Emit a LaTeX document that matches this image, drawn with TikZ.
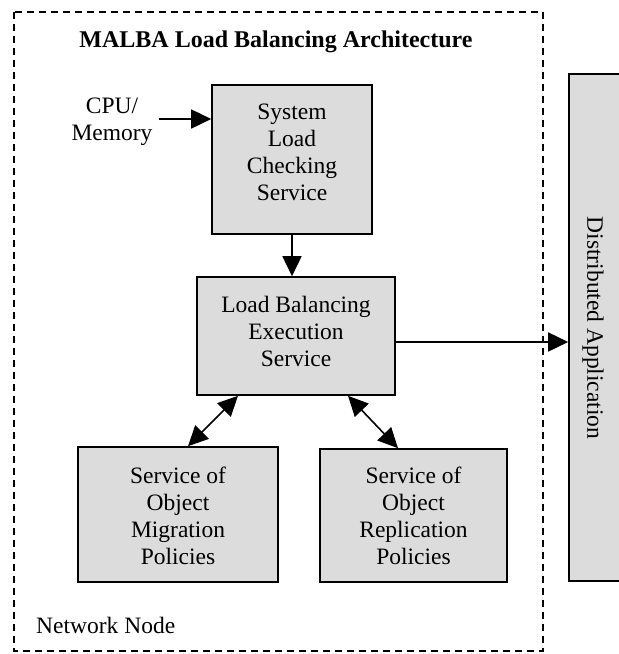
\documentclass[tikz,border=0pt]{standalone}
\usepackage{fontspec}
\setmainfont{Liberation Serif}
\usetikzlibrary{arrows.meta}
\definecolor{boxgray}{RGB}{220,220,220}
\tikzset{
  txt/.style={font=\fontsize{23.5}{27}\selectfont, align=center, inner sep=0pt},
  svcbox/.style={draw=black, line width=1.6pt, fill=boxgray, inner sep=0pt},
  arr/.style={line width=1.6pt, -{Triangle[length=20pt,width=19pt]}},
  dblarr/.style={line width=1.6pt, {Triangle[length=20pt,width=19pt]}-{Triangle[length=20pt,width=19pt]}},
  nodeframe/.style={draw=black, line width=1.4pt, dash pattern=on 7pt off 5pt}
}
\begin{document}
\begin{tikzpicture}[x=1pt,y=-1pt]
  \useasboundingbox (0,0) rectangle (619,654);
  \clip (0,0) rectangle (619,654);

  % network node frame and its labels
  \draw[nodeframe] (14,12) rectangle (543,651);
  \node[txt, font=\fontsize{24}{27}\selectfont\bfseries] (title) at (276,42) {MALBA Load Balancing Architecture};
  \node[txt, anchor=west] (netnode) at (36,625) {Network Node};

  % input
  \node[txt] (cpu) at (112,122) {CPU/\\Memory};
  \coordinate (cpuout) at (159,119);

  % services
  \node[svcbox, minimum width=160pt, minimum height=149pt] (slc) at (292,159.5) {};
  \node[txt] (slctxt) at (292,152.5) {System\\Load\\Checking\\Service};

  \node[svcbox, minimum width=198pt, minimum height=118pt] (lbe) at (296,336) {};
  \node[txt] (lbetxt) at (296,331.5) {Load Balancing\\Execution\\Service};

  \node[svcbox, minimum width=200pt, minimum height=135pt] (mig) at (178,514.5) {};
  \node[txt] (migtxt) at (178,516) {Service of\\Object\\Migration\\Policies};

  \node[svcbox, minimum width=187pt, minimum height=133pt] (rep) at (413.5,515.5) {};
  \node[txt] (reptxt) at (413.5,516) {Service of\\Object\\Replication\\Policies};

  % application outside the network node
  \node[svcbox, minimum width=71pt, minimum height=507pt] (dapp) at (604.5,327.5) {};
  \node[txt, rotate=-90] (dapptxt) at (593,328) {Distributed Application};

  % connectors
  \draw[arr] (cpuout) -- (slc.west |- cpuout);
  \draw[arr] (slc.south) -- (slc.south |- lbe.north);
  \draw[arr] (lbe.east |- 0,342) -- (dapp.west |- 0,342);
  \draw[dblarr] (238,0 |- lbe.south) -- (188,0 |- mig.north);
  \draw[dblarr] (348,0 |- lbe.south) -- (398,0 |- rep.north);
\end{tikzpicture}
\end{document}
